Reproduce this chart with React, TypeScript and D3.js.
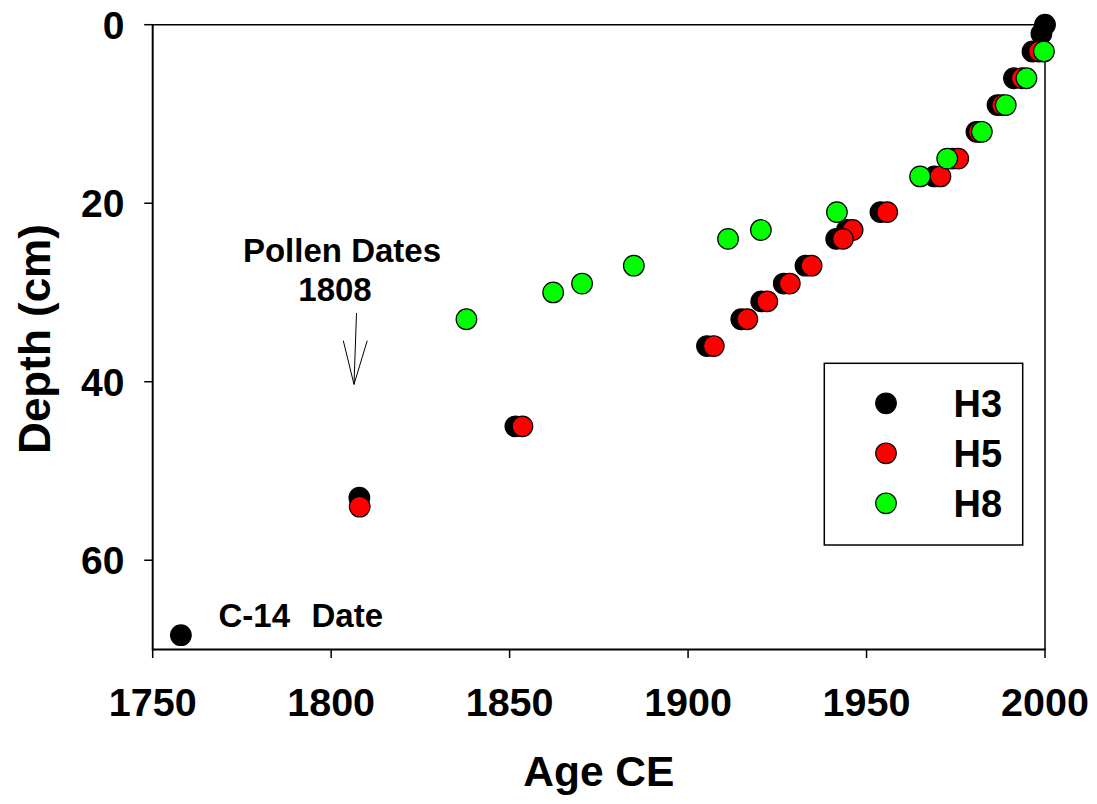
import React from "react";
import * as d3 from "d3";

// ---- Data ----
const seriesNames = ["H3", "H5", "H8"];
const seriesColors = ["#000000", "#ff0000", "#00ff00"];

const h3Years = [2000, 1999, 1996.5, 1991.3, 1986.7, 1980.8, 1974, 1969, 1953.9, 1944.5, 1941.5, 1932.9, 1926.8, 1920.5, 1914.9, 1905.3, 1851.6, 1807.9, 1757.9];
const h3Depths = [0, 1, 3, 6, 9, 12, 15, 17, 21, 23, 24, 27, 29, 31, 33, 36, 45, 53, 68.4];

const h5Years = [1998.3, 1993.5, 1988, 1981.5, 1975.7, 1970.7, 1955.8, 1946.1, 1943.4, 1934.6, 1928.5, 1922.2, 1916.6, 1907.2, 1853.6, 1808];
const h5Depths = [3, 6, 9, 12, 15, 17, 21, 23, 24, 27, 29, 31, 33, 36, 45, 54];

const h8Years = [1999.7, 1994.8, 1989, 1982.3, 1972.6, 1965, 1941.7, 1920.4, 1911.2, 1884.8, 1870.3, 1862.2, 1837.9];
const h8Depths = [3, 6, 9, 12, 15, 17, 21, 23, 24, 27, 29, 30, 33];

const xTicks = [1750, 1800, 1850, 1900, 1950, 2000];
const yTicks = [0, 20, 40, 60];

const xTitle = "Age CE";
const yTitle = "Depth (cm)";

const W = 1097;
const H = 804;
const FONT = "'Liberation Sans', Arial, Helvetica, sans-serif";

export default function App() {
  const left = 152.7, right = 1045, top = 24.7, bottom = 649.5;
  const x = d3.scaleLinear().domain([1750, 2000]).range([left, right]);
  const y = d3.scaleLinear().domain([0, 70]).range([top, bottom]);

  const series = [
    { name: seriesNames[0], color: seriesColors[0], xs: h3Years, ys: h3Depths },
    { name: seriesNames[1], color: seriesColors[1], xs: h5Years, ys: h5Depths },
    { name: seriesNames[2], color: seriesColors[2], xs: h8Years, ys: h8Depths },
  ];
  const r = 10.3;

  // arrow annotation (data coords)
  const arrowStart: [number, number] = [1807.1, 32.3];
  const arrowTip: [number, number] = [1806.4, 40.3];
  const headL: [number, number] = [1803.4, 35.4];
  const headR: [number, number] = [1810.1, 35.4];

  return (
    <svg
      width={W}
      height={H}
      style={{ position: "absolute", left: 0, top: 0, background: "#fff" }}
      fontFamily={FONT}
      fontWeight="bold"
    >
      <rect x={0} y={0} width={W} height={H} fill="#fff" />
      {/* frame */}
      <line x1={left} x2={right} y1={top} y2={top} stroke="#000" strokeWidth={1.5} />
      <line x1={right} x2={right} y1={top} y2={bottom} stroke="#000" strokeWidth={1.5} />
      <line x1={left} x2={left} y1={top - 0.75} y2={bottom + 1} stroke="#000" strokeWidth={2} />
      <line x1={left} x2={right + 0.75} y1={bottom} y2={bottom} stroke="#000" strokeWidth={2} />

      {/* y ticks */}
      {yTicks.map((t) => (
        <g key={"y" + t}>
          <line x1={left - 8.5} x2={left} y1={y(t)} y2={y(t)} stroke="#000" strokeWidth={1.5} />
          <text x={124.5} y={y(t)} dy="0.36em" textAnchor="end" fontSize={39}>
            {t}
          </text>
        </g>
      ))}
      {/* x ticks */}
      {xTicks.map((t) => (
        <g key={"x" + t}>
          <line x1={x(t)} x2={x(t)} y1={bottom} y2={bottom + 8.5} stroke="#000" strokeWidth={1.5} />
          <text x={x(t)} y={716} textAnchor="middle" fontSize={39.5}>
            {t}
          </text>
        </g>
      ))}

      {/* axis titles */}
      <text x={(left + right) / 2} y={786} textAnchor="middle" fontSize={42.5}>
        {xTitle}
      </text>
      <text
        transform={`translate(50,339) rotate(-90)`}
        textAnchor="middle"
        fontSize={44}
      >
        {yTitle}
      </text>

      {/* points */}
      {series.map((s) => (
        <g key={s.name}>
          {s.xs.map((v, i) => (
            <circle
              key={i}
              cx={x(v)}
              cy={y(s.ys[i])}
              r={r}
              fill={s.color}
              stroke="#000"
              strokeWidth={1.2}
            />
          ))}
        </g>
      ))}

      {/* annotations */}
      <text x={342} y={261.7} textAnchor="middle" fontSize={33}>
        Pollen Dates
      </text>
      <text x={335} y={301} textAnchor="middle" fontSize={33}>
        1808
      </text>
      <line x1={x(arrowStart[0])} y1={y(arrowStart[1])} x2={x(arrowTip[0])} y2={y(arrowTip[1])} stroke="#000" strokeWidth={1} />
      <line x1={x(headL[0])} y1={y(headL[1])} x2={x(arrowTip[0])} y2={y(arrowTip[1])} stroke="#000" strokeWidth={1} />
      <line x1={x(headR[0])} y1={y(headR[1])} x2={x(arrowTip[0])} y2={y(arrowTip[1])} stroke="#000" strokeWidth={1} />
      <text x={218.5} y={626.7} fontSize={33}>
        C-14
      </text>
      <text x={311.5} y={626.7} fontSize={33}>
        Date
      </text>

      {/* legend */}
      <rect x={824.3} y={363.3} width={198.4} height={181.7} fill="#fff" stroke="#000" strokeWidth={1.5} />
      {series.map((s, i) => (
        <g key={"lg" + s.name}>
          <circle cx={886} cy={403.3 + i * 50} r={r} fill={s.color} stroke="#000" strokeWidth={1.2} />
          <text x={953.5} y={416.7 + i * 50} fontSize={38}>
            {s.name}
          </text>
        </g>
      ))}
    </svg>
  );
}
